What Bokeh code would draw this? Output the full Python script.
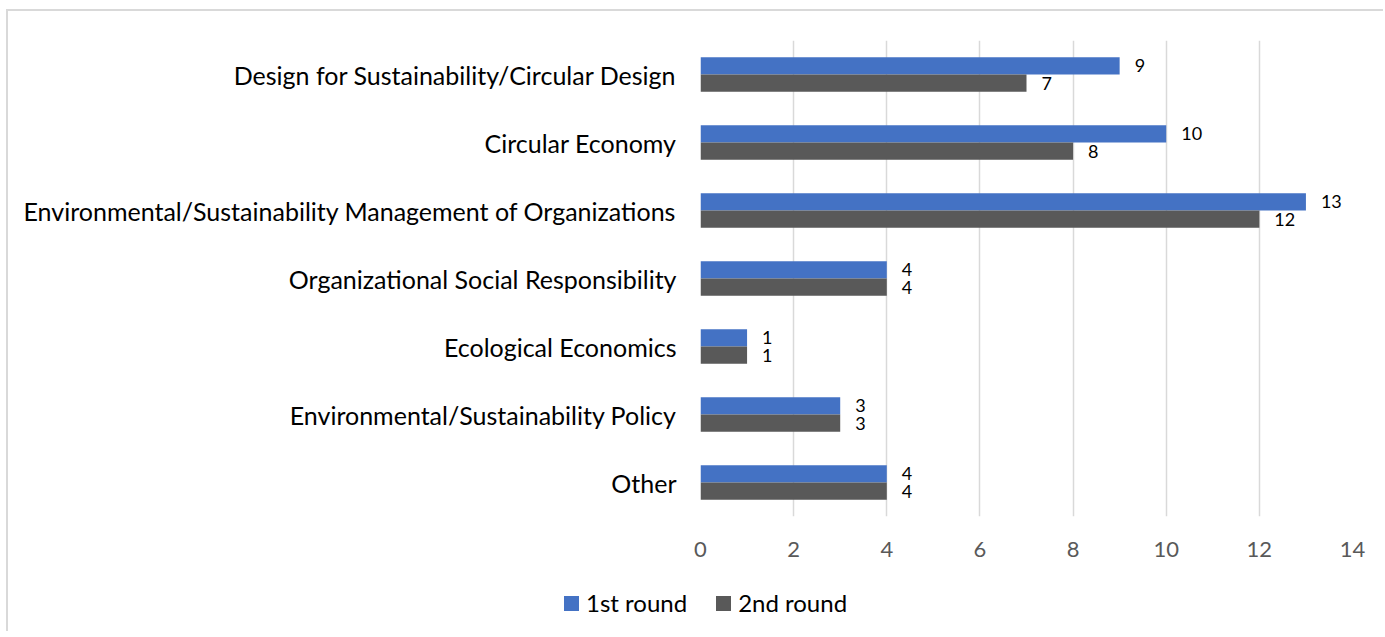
from bokeh.plotting import figure
from bokeh.layouts import column
from bokeh.models import ColumnDataSource, FactorRange, Range1d, FixedTicker, Div
from bokeh.transform import dodge
from bokeh.core.properties import value
from bokeh.embed import file_html
from bokeh.resources import INLINE

# Topics as listed top to bottom
categories = [
    "Design for Sustainability/Circular Design",
    "Circular Economy",
    "Environmental/Sustainability Management of Organizations",
    "Organizational Social Responsibility",
    "Ecological Economics",
    "Environmental/Sustainability Policy",
    "Other",
]
round1 = [9, 10, 13, 4, 1, 3, 4]
round2 = [7, 8, 12, 4, 1, 3, 4]
series_names = ["1st round", "2nd round"]
x_ticks = [0, 2, 4, 6, 8, 10, 12, 14]

BLUE = "#4472C4"
GRAY = "#595959"
FONT = "Lato"

source = ColumnDataSource(data=dict(
    cat=categories,
    r1=round1,
    r2=round2,
    r1_txt=[str(v) for v in round1],
    r2_txt=[str(v) for v in round2],
))

# first factor sits at the bottom of a vertical factor range
factors = list(reversed(categories))

p = figure(
    width=1375, height=560,
    y_range=FactorRange(*factors, range_padding=0),
    x_range=Range1d(0, 14),
    output_backend="svg", toolbar_location=None,
    min_border_left=692, min_border_right=31,
    min_border_top=29, min_border_bottom=55,
)
p.outline_line_color = None
p.background_fill_color = "white"
p.border_fill_color = "white"

bar_h = 0.254
off = 0.127

p.hbar(y=dodge("cat", off, range=p.y_range), right="r1", left=0, height=bar_h,
       source=source, fill_color=BLUE, line_color=None)
p.hbar(y=dodge("cat", -off, range=p.y_range), right="r2", left=0, height=bar_h,
       source=source, fill_color=GRAY, line_color=None)

# value labels at the end of each bar
p.text(x="r1", y=dodge("cat", off, range=p.y_range), text="r1_txt", source=source,
       x_offset=15, text_baseline="middle", text_align="left",
       text_font=value(FONT), text_font_size="18px", text_color="#000000")
p.text(x="r2", y=dodge("cat", -off, range=p.y_range), text="r2_txt", source=source,
       x_offset=15, text_baseline="middle", text_align="left",
       text_font=value(FONT), text_font_size="18px", text_color="#000000")

# x axis: labels only
xa = p.xaxis[0]
xa.ticker = FixedTicker(ticks=x_ticks)
xa.axis_line_color = None
xa.major_tick_line_color = None
xa.minor_tick_line_color = None
xa.major_label_text_font = FONT
xa.major_label_text_font_size = "22px"
xa.major_label_text_color = "#595959"
xa.major_label_standoff = 19

# y axis: category names only
ya = p.yaxis[0]
ya.axis_line_color = None
ya.major_tick_line_color = None
ya.minor_tick_line_color = None
ya.major_label_text_font = FONT
ya.major_label_text_font_size = "25px"
ya.major_label_text_color = "#000000"
ya.major_label_standoff = 18

p.ygrid.grid_line_color = None
p.xgrid.ticker = FixedTicker(ticks=x_ticks)
p.xgrid.grid_line_color = "#d9d9d9"
p.xgrid.grid_line_width = 1.5

# legend strip under the chart
swatch = ("<span style='flex:none;display:inline-block;width:15px;height:15px;"
          "background:{c};margin-left:{ml}px;margin-right:7px'></span>"
          "<span style='flex:none;white-space:nowrap'>{t}</span>")
legend_html = (
    "<div style='display:flex;align-items:center;padding-left:556px;padding-top:20px;"
    f"font-family:{FONT};font-size:24px;line-height:24px;color:#000000'>"
    + swatch.format(c=BLUE, ml=0, t=series_names[0])
    + swatch.format(c=GRAY, ml=29, t=series_names[1])
    + "</div>"
)
legend_div = Div(text=legend_html, width=1375, height=60, margin=(0, 0, 0, 0))

layout = column(p, legend_div, spacing=0)
layout.margin = (9, 0, 0, 6)
layout.styles = {"border-top": "2px solid #d9d9d9", "border-left": "2px solid #d9d9d9"}

open("out.html", "w").write(file_html(layout, INLINE))
